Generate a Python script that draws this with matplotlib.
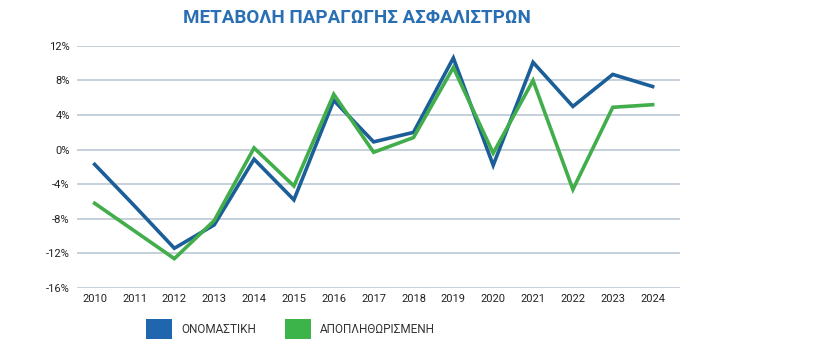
import matplotlib

matplotlib.use("Agg")
import matplotlib.pyplot as plt
from matplotlib.patches import Patch
from matplotlib.ticker import FuncFormatter

years = list(range(2010, 2025))
nominal = [-1.7, -6.5, -11.4, -8.7, -1.1, -5.8, 5.7, 0.9, 2.0, 10.6, -1.8, 10.1, 5.0, 8.7, 7.3]
real = [-6.2, -9.4, -12.6, -8.2, 0.2, -4.2, 6.4, -0.3, 1.4, 9.5, -0.4, 8.0, -4.6, 4.9, 5.2]
yticks = [-16, -12, -8, -4, 0, 4, 8, 12]
title = "ΜΕΤΑΒΟΛΗ ΠΑΡΑΓΩΓΗΣ ΑΣΦΑΛΙΣΤΡΩΝ"
labels = ["ΟΝΟΜΑΣΤΙΚΗ", "ΑΠΟΠΛΗΘΩΡΙΣΜΕΝΗ"]

plt.rcParams["font.family"] = ["Roboto", "DejaVu Sans"]

fig = plt.figure(figsize=(8.16, 3.53), dpi=100)
ax = fig.add_axes([0.094, 0.184, 0.739, 0.686])

ax.plot(years, nominal, color="#1b5e98", linewidth=2.6, solid_joinstyle="miter", zorder=3)
ax.plot(years, real, color="#41ad4b", linewidth=2.6, solid_joinstyle="miter", zorder=3)

ax.set_xlim(2009.55, 2024.68)
ax.set_ylim(-16, 12)
ax.set_yticks(yticks)
ax.set_xticks(years)
ax.yaxis.set_major_formatter(FuncFormatter(lambda v, p: f"{v:.0f}%"))
ax.grid(axis="y", color="#bcc8d4", linewidth=1.2)
ax.set_axisbelow(True)
for s in ax.spines.values():
    s.set_visible(False)
ax.tick_params(axis="both", length=0, labelsize=8, colors="#222222")
ax.tick_params(axis="y", pad=5)
ax.tick_params(axis="x", pad=4)

fig.text(0.438, 0.948, title, ha="center", va="center", fontsize=13.5,
         fontweight="bold", color="#2a6fb3")

handles = [Patch(facecolor="#1f66ae", edgecolor="none"),
           Patch(facecolor="#3cb44a", edgecolor="none")]
fig.legend(handles, labels, loc="center", bbox_to_anchor=(0.356, 0.068), ncol=2,
           frameon=False, fontsize=8.5, handlelength=2.2, handleheight=2.2,
           columnspacing=2.4, handletextpad=0.8, labelcolor="#333333")

fig.savefig("out.png", dpi=100)
